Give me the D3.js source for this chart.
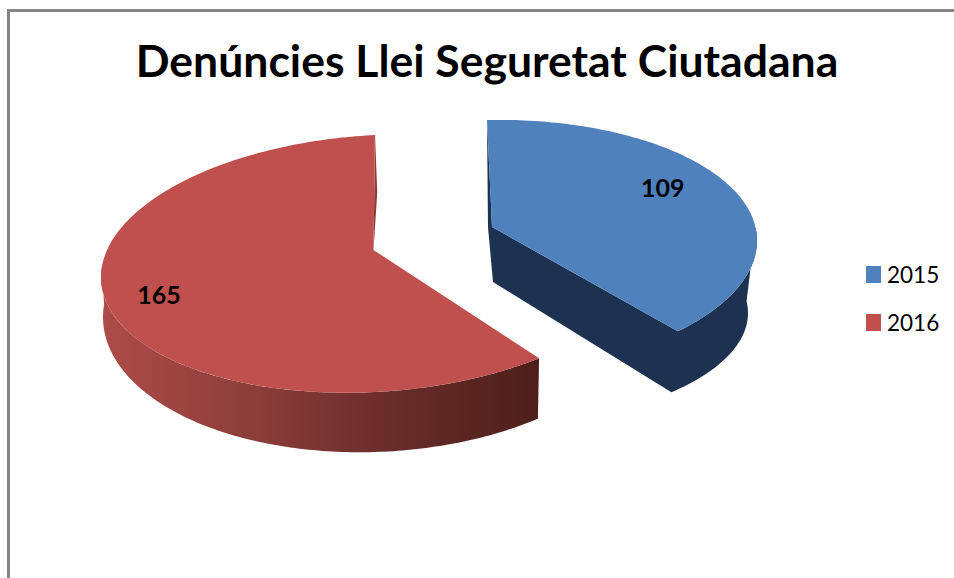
<!DOCTYPE html>
<html>
<head>
<meta charset="utf-8">
<script src="https://d3js.org/d3.v7.min.js"></script>
<style>
  body { margin: 0; background: #fff; }
  svg { display: block; }
  text { font-family: Lato, "Open Sans", sans-serif; fill: #000; }
</style>
</head>
<body>
<div id="chart"></div>
<script>
// chart data
let years = ["2015", "2016"];
let values = [109, 165];
let chartTitle = "Denúncies Llei Seguretat Ciutadana";

// one colour per year
let topColors = ["#4f81bd", "#c0504d"];
let sliverColors = ["#1c3250", "#8f3b38"];
let wallFills = ["#1c3250", "url(#redWall)"];

let svgWidth = 954;
let svgHeight = 578;

// how each exploded slice is projected to the screen
// top = upper face ellipse, bottom = lower edge ellipse, warp = perspective on the sweep
let slices = [
    {
        apex: [492, 227], apexBottom: [493, 282], warp: 0.943,
        top: {cx: 487, cy: 246, rx: 270, ry: 126, skew: -0.02},
        bottom: {cx: 487, cy: 313, rx: 261, ry: 112, skew: 0},
        sliverAt: 1, sliverShift: -4,
        rimFrom: 84, rimTo: null,
        labelAngle: 56.4, labelRadius: 0.782
    },
    {
        apex: [373.5, 250], apexBottom: null, warp: 1,
        top: {cx: 375, cy: 263.5, rx: 274, ry: 128.5, skew: -0.05},
        bottom: {cx: 375, cy: 309, rx: 272, ry: 143, skew: -0.03},
        sliverAt: 0.5, sliverShift: 3,
        rimFrom: null, rimTo: 275,
        labelAngle: 258.5, labelRadius: 0.804
    }
];

let svg = d3.select("#chart")
    .append("svg")
    .attr("width", svgWidth)
    .attr("height", svgHeight);

// gradient on the red outer wall
let wallGradient = svg.append("defs")
    .append("linearGradient")
    .attr("id", "redWall")
    .attr("gradientUnits", "userSpaceOnUse")
    .attr("x1", 103).attr("y1", 0)
    .attr("x2", 538).attr("y2", 0);

wallGradient.selectAll("stop")
    .data([
        ["0%", "#ad4c49"],
        ["35%", "#8b3d39"],
        ["65%", "#6a2d2a"],
        ["100%", "#4d1f1a"]
    ])
    .enter()
    .append("stop")
    .attr("offset", d => d[0])
    .attr("stop-color", d => d[1]);

// outer frame, only left and top are visible
svg.append("path")
    .attr("d", `M8.5,${svgHeight}V10.5H${svgWidth}`)
    .attr("fill", "none")
    .attr("stroke", "#868686")
    .attr("stroke-width", 3);

svg.append("text")
    .attr("x", 487)
    .attr("y", 77)
    .attr("text-anchor", "middle")
    .attr("font-size", 44.5)
    .attr("font-weight", 700)
    .text(chartTitle);

// slice angles, clockwise from twelve o'clock
let pie = d3.pie().sort(null);
let arcs = pie(values);

// degrees on an ellipse to screen position
function project(e, deg) {
    let a = deg * Math.PI / 180;
    let x = e.rx * Math.sin(a);
    let y = -e.ry * Math.cos(a);
    return [e.cx + x, e.cy + y + e.skew * x];
}

function ellipsePoints(e, from, to) {
    let n = Math.ceil(Math.abs(to - from));
    return d3.range(n + 1).map(i => project(e, from + (to - from) * i / n));
}

let line = d3.line();

arcs.forEach(function(d, i) {
    let s = slices[i];
    let start = d.startAngle * 180 / Math.PI;
    let end = d.endAngle * 180 / Math.PI;
    let drawnEnd = start + (end - start) * s.warp;

    let group = svg.append("g").attr("class", "slice");

    // outer wall: only the part of the rim that faces the viewer
    let rimFrom = s.rimFrom === null ? start : s.rimFrom;
    let rimTo = s.rimTo === null ? drawnEnd : s.rimTo;
    let wallPoints = ellipsePoints(s.top, rimFrom, rimTo)
        .concat(ellipsePoints(s.bottom, rimTo, rimFrom));

    // thin sliver along the straight edge at twelve o'clock
    let edgeTop = project(s.top, i === 0 ? start : end);
    let bend = [
        edgeTop[0] + (s.apex[0] - edgeTop[0]) * s.sliverAt + s.sliverShift,
        edgeTop[1] + (s.apex[1] - edgeTop[1]) * s.sliverAt
    ];

    if (s.apexBottom) {
        // blue slice: rim, cut wall and sliver are one dark shape
        let tip = project(s.top, drawnEnd);
        let tipBottom = project(s.bottom, drawnEnd);
        let cutWall = [edgeTop, bend, s.apexBottom, tipBottom, tip, s.apex];
        group.append("path")
            .attr("d", line(wallPoints.slice().reverse()) + "Z" + line(cutWall) + "Z")
            .attr("fill", wallFills[i]);
    }
    else {
        group.append("path")
            .attr("d", line(wallPoints) + "Z")
            .attr("fill", wallFills[i]);
        group.append("path")
            .attr("d", line([edgeTop, bend, s.apex]) + "Z")
            .attr("fill", sliverColors[i]);
    }

    // upper face
    let facePoints = ellipsePoints(s.top, start, drawnEnd);
    facePoints.push(s.apex);
    group.append("path")
        .attr("d", line(facePoints) + "Z")
        .attr("fill", topColors[i]);
});

// value labels sit on the upper face
function labelPos(s) {
    let p = project(s.top, s.labelAngle);
    return [s.top.cx + (p[0] - s.top.cx) * s.labelRadius, s.top.cy + (p[1] - s.top.cy) * s.labelRadius];
}

svg.selectAll(".value")
    .data(values)
    .enter()
    .append("text")
    .attr("class", "value")
    .attr("x", (d, i) => labelPos(slices[i])[0])
    .attr("y", (d, i) => labelPos(slices[i])[1])
    .attr("dy", "0.36em")
    .attr("text-anchor", "middle")
    .attr("font-size", 25)
    .attr("font-weight", 700)
    .text(d => d);

// legend
let legendY = d3.scalePoint().domain(years).range([266, 314]);

let legend = svg.selectAll(".legend")
    .data(years)
    .enter()
    .append("g")
    .attr("class", "legend")
    .attr("transform", d => `translate(866, ${legendY(d)})`);

legend.append("rect")
    .attr("width", 15)
    .attr("height", 17)
    .attr("fill", (d, i) => topColors[i]);

legend.append("text")
    .attr("x", 21)
    .attr("y", 17)
    .attr("font-size", 22.5)
    .text(d => d);
</script>
</body>
</html>
